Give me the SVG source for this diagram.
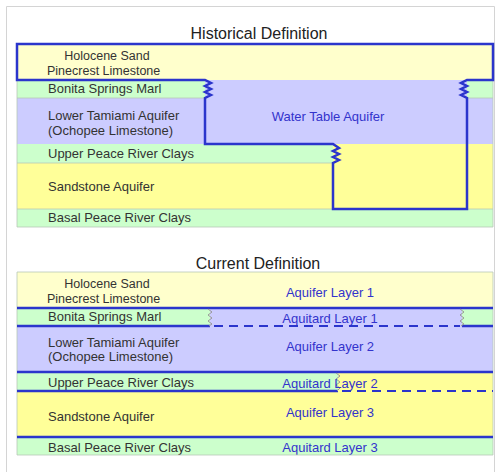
<svg xmlns="http://www.w3.org/2000/svg" width="498" height="472" viewBox="0 0 498 472">
<style>
.py{fill:#FFFFCC}
.g{fill:#CCFFCC}
.lv{fill:#CCCCFF}
.y{fill:#FFFF99}
.edge{fill:none;stroke:#B8C8B8;stroke-width:0.8}
.lbl{font-family:"Liberation Sans",Arial,sans-serif;font-size:13px;fill:#333333}
.sm{font-size:12.5px}
.blbl{font-family:"Liberation Sans",Arial,sans-serif;font-size:13px;fill:#3333CC}
.ttl{font-family:"Liberation Sans",Arial,sans-serif;font-size:16px;fill:#222222;text-anchor:middle}
.bl{stroke:#2B35CC;stroke-width:2.5;fill:none}
.dash{stroke:#2B35CC;stroke-width:2;fill:none;stroke-dasharray:9,6}
.zz{stroke:#999999;stroke-width:1;fill:none}
</style>
<rect x="0" y="0" width="498" height="472" fill="#FFFFFF"/>
<path d="M6.5,472 V6.5 H494.5 V472" fill="none" stroke="#D4D4D4" stroke-width="1"/>

<g id="historical">
  <text class="ttl" x="259" y="39">Historical Definition</text>
  <g id="h-holocene">
    <rect class="py" x="17" y="44" width="476" height="36"/>
    <text class="lbl sm" x="107" y="60" text-anchor="middle">Holocene Sand</text>
    <text class="lbl sm" x="47" y="75">Pinecrest Limestone</text>
  </g>
  <g id="h-bonita">
    <rect class="g" x="17" y="80" width="188" height="18"/>
    <rect class="lv" x="205" y="80" width="262" height="18"/>
    <rect class="g" x="467" y="80" width="26" height="18"/>
    <text class="lbl" x="48" y="93">Bonita Springs Marl</text>
  </g>
  <g id="h-tamiami">
    <rect class="lv" x="17" y="98" width="476" height="46"/>
    <text class="lbl" x="48" y="120">Lower Tamiami Aquifer</text>
    <text class="lbl" x="48" y="135">(Ochopee Limestone)</text>
  </g>
  <g id="h-uprc">
    <rect class="g" x="17" y="144" width="316" height="19"/>
    <rect class="y" x="333" y="144" width="160" height="19"/>
    <text class="lbl" x="48" y="158">Upper Peace River Clays</text>
  </g>
  <g id="h-sandstone">
    <rect class="y" x="17" y="163" width="476" height="46"/>
    <text class="lbl" x="48" y="191">Sandstone Aquifer</text>
  </g>
  <g id="h-basal">
    <rect class="g" x="17" y="209" width="476" height="18"/>
    <text class="lbl" x="48" y="222">Basal Peace River Clays</text>
  </g>
  <path class="edge" d="M17,80 H205 M467,80 H493 M17,98 H205 M467,98 H493 M17,163 H333 M17,209 H493 M17,227 H493 M493,44 V227 M17,80 V227"/>
  <g id="water-table-aquifer">
    <path class="bl" d="M17,44 H493 V80 H467 L461,83 L467,86 L461,89 L467,92 L461,95 L467,98 V209 H333 V163 L339,160 L333,157 L339,154 L333,151 L339,148 L333,144 H205 V98 L211,95 L205,92 L211,89 L205,86 L211,83 L205,80 H17 Z"/>
    <text class="blbl" x="328" y="121" text-anchor="middle">Water Table Aquifer</text>
  </g>
</g>

<g id="current">
  <text class="ttl" x="258" y="269">Current Definition</text>
  <g id="c-holocene">
    <rect class="py" x="17" y="272" width="476" height="36"/>
    <text class="lbl sm" x="107" y="288" text-anchor="middle">Holocene Sand</text>
    <text class="lbl sm" x="47" y="303">Pinecrest Limestone</text>
    <text class="blbl" x="330" y="297" text-anchor="middle">Aquifer Layer 1</text>
  </g>
  <g id="c-bonita">
    <rect class="g" x="17" y="308" width="193" height="18"/>
    <rect class="lv" x="210" y="308" width="252" height="18"/>
    <rect class="g" x="462" y="308" width="31" height="18"/>
    <text class="lbl" x="48" y="321">Bonita Springs Marl</text>
    <text class="blbl" x="330" y="323" text-anchor="middle">Aquitard Layer 1</text>
  </g>
  <g id="c-tamiami">
    <rect class="lv" x="17" y="326" width="476" height="46"/>
    <text class="lbl" x="48" y="347">Lower Tamiami Aquifer</text>
    <text class="lbl" x="48" y="361">(Ochopee Limestone)</text>
    <text class="blbl" x="330" y="351" text-anchor="middle">Aquifer Layer 2</text>
  </g>
  <g id="c-uprc">
    <rect class="g" x="17" y="372" width="321" height="19"/>
    <rect class="y" x="338" y="372" width="155" height="19"/>
    <text class="lbl" x="48" y="387">Upper Peace River Clays</text>
  </g>
  <g id="c-sandstone">
    <rect class="y" x="17" y="391" width="476" height="46"/>
    <text class="lbl" x="48" y="421">Sandstone Aquifer</text>
    <text class="blbl" x="330" y="417" text-anchor="middle">Aquifer Layer 3</text>
  </g>
  <g id="c-basal">
    <rect class="g" x="17" y="437" width="476" height="18"/>
    <text class="lbl" x="48" y="452">Basal Peace River Clays</text>
    <text class="blbl" x="330" y="452" text-anchor="middle">Aquitard Layer 3</text>
  </g>
  <path class="edge" d="M17,272 H493 V455 H17 Z"/>
  <g id="connectors">
    <path class="bl" d="M17,308 H493"/>
    <path class="bl" d="M17,326 H210 M462,326 H493"/>
    <path class="dash" d="M214,326 H460"/>
    <path class="bl" d="M17,372 H493"/>
    <path class="bl" d="M17,391 H338"/>
    <path class="dash" d="M342,391 H493"/>
    <path class="bl" d="M17,437 H493"/>
    <path class="zz" d="M208,309 L212,312 L208,315 L212,318 L208,321 L212,324 L209,326"/>
    <path class="zz" d="M460,309 L464,312 L460,315 L464,318 L460,321 L464,324 L461,326"/>
    <path class="zz" d="M336,373 L340,376 L336,379 L340,382 L336,385 L340,388 L337,391"/>
  </g>
  <text class="blbl" x="330" y="388" text-anchor="middle">Aquitard Layer 2</text>
</g>
</svg>
